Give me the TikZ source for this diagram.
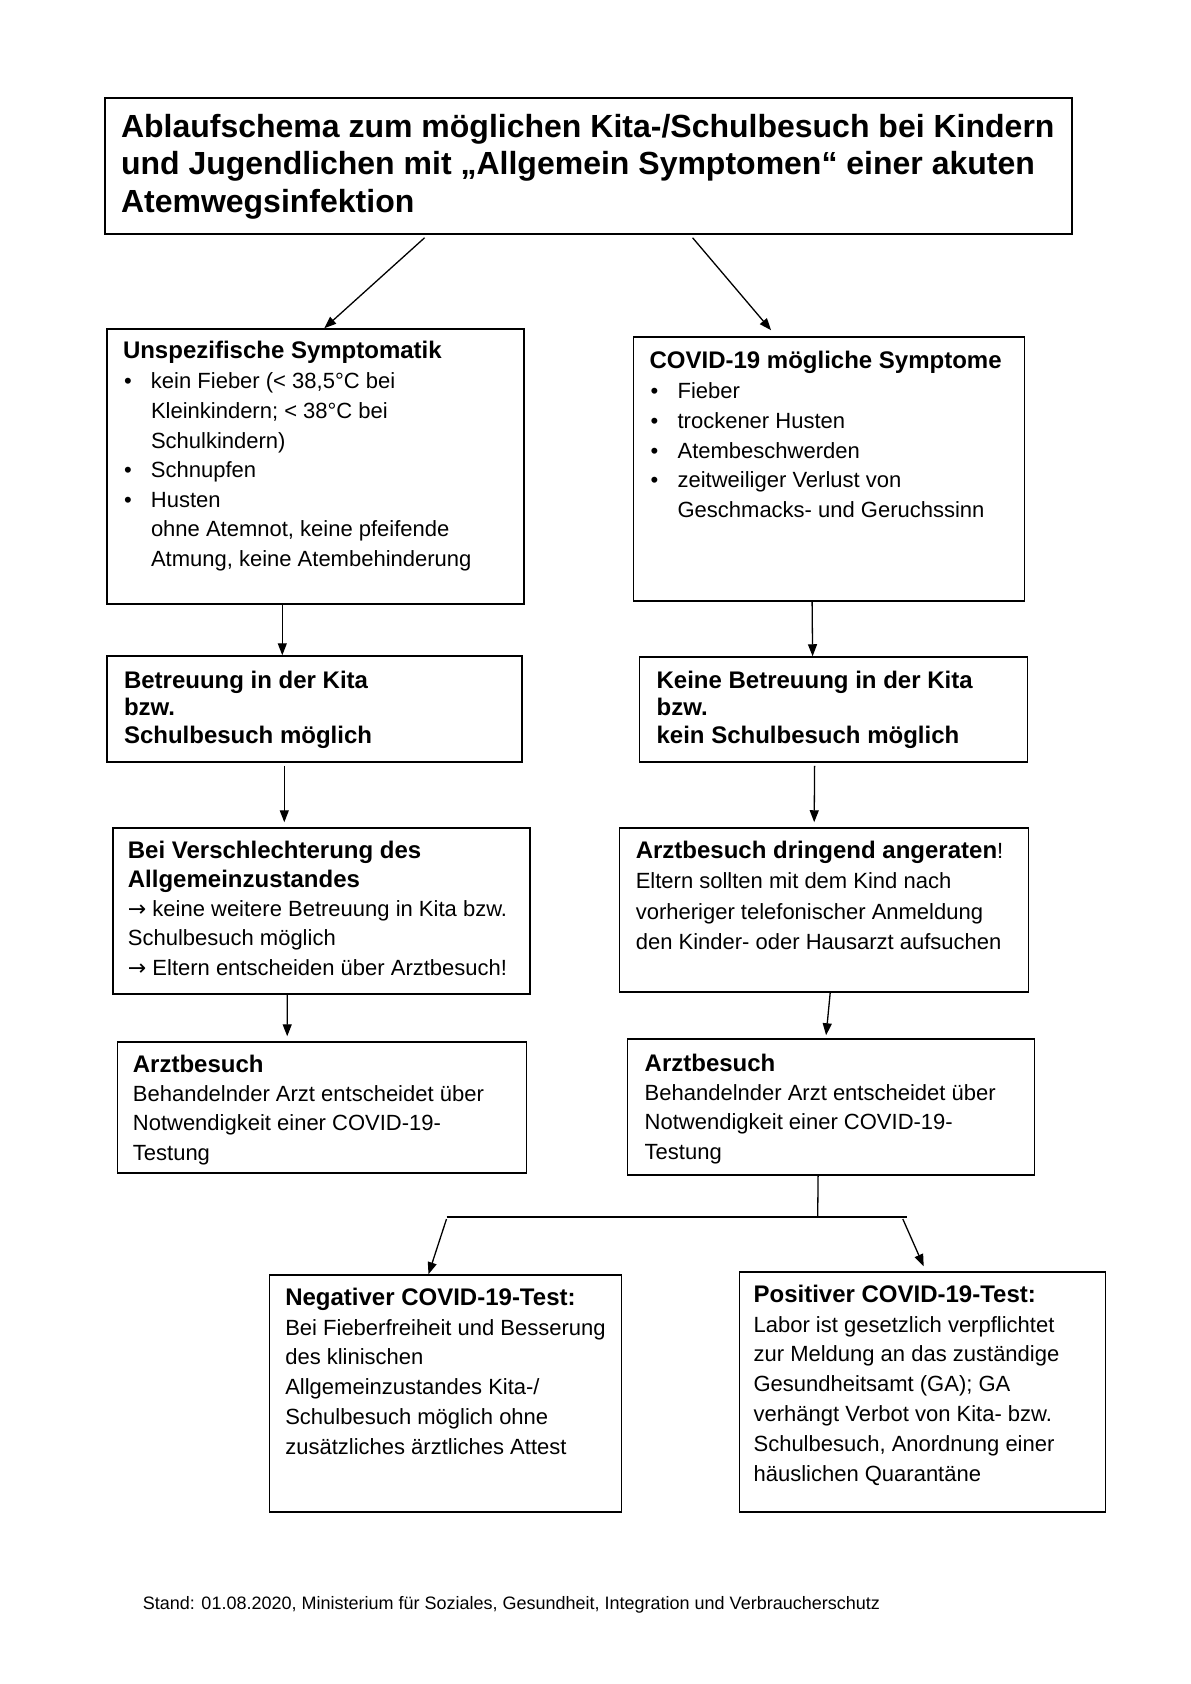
\documentclass[tikz,border=0pt]{standalone}
\usepackage{fontspec}
\setmainfont{Liberation Sans}
\newfontfamily\dvsfont{DejaVu Sans}
\usetikzlibrary{arrows.meta}
\newcommand\bitem{\hspace*{1pt}\makebox[27pt][l]{\textbullet}}
\newcommand\bind{\hspace*{28pt}}
\newcommand\hdr[1]{{\fontsize{24}{29.6}\selectfont\bfseries #1}}
\newcommand\fst{\rule{0pt}{22pt}}
\newcommand\rarr{{\dvsfont →}}
\begin{document}
\begin{tikzpicture}[x=1pt,y=-1pt,
  box/.style={draw=black, line width=1.5pt, rectangle, inner sep=0pt, fill=white},
  txt/.style={anchor=north west, inner sep=0pt, align=left, font=\fontsize{22}{29.6}\selectfont},
  arr/.style={line width=1.3pt, -{Triangle[length=12pt,width=9pt]}},
  ln/.style={line width=1.3pt}]
\useasboundingbox[fill=white] (0,0) rectangle (1191,1684);

% boxes
\node[box, minimum width=967pt, minimum height=136pt] (title) at (588.6,166) {};
\node[box, minimum width=417pt, minimum height=275pt] (unspez) at (315.3,466.5) {};
\node[box, minimum width=391pt, minimum height=264pt] (covid) at (829.1,469) {};
\node[box, minimum width=415pt, minimum height=106pt] (betr) at (314.3,709) {};
\node[box, minimum width=388pt, minimum height=105pt] (keine) at (833.6,709.5) {};
\node[box, minimum width=417pt, minimum height=166pt] (versch) at (321.3,911) {};
\node[box, minimum width=409pt, minimum height=164pt] (arztd) at (824.2,910) {};
\node[box, minimum width=409pt, minimum height=131pt] (arzt1) at (322.2,1107.5) {};
\node[box, minimum width=407pt, minimum height=136pt] (arzt2) at (831.1,1107) {};
\node[box, minimum width=352pt, minimum height=237pt] (neg) at (445.5,1393.5) {};
\node[box, minimum width=366pt, minimum height=240pt] (pos) at (922.7,1392) {};

% texts
\node[txt, font=\fontsize{32}{37.6}\selectfont\bfseries] (ttitle) at (120.8,111)
 {\rule{0pt}{26pt}Ablaufschema zum möglichen Kita-/Schulbesuch bei Kindern\\
  und Jugendlichen mit „Allgemein Symptomen“ einer akuten\\
  Atemwegsinfektion};

\node[txt] (tunspez) at (122.8,336)
 {\fst\hdr{Unspezifische Symptomatik}\\[1pt]
  \bitem kein Fieber (< 38,5°C bei\\
  \bind Kleinkindern; < 38°C bei\\
  \bind Schulkindern)\\
  \bitem Schnupfen\\
  \bitem Husten\\
  \bind ohne Atemnot, keine pfeifende\\
  \bind Atmung, keine Atembehinderung};

\node[txt] (tcovid) at (649.4,346)
 {\fst\hdr{COVID-19 mögliche Symptome}\\[1pt]
  \bitem Fieber\\
  \bitem trockener Husten\\
  \bitem Atembeschwerden\\
  \bitem zeitweiliger Verlust von\\
  \bind Geschmacks- und Geruchssinn};

\node[txt, font=\fontsize{24}{27.5}\selectfont\bfseries] (tbetr) at (123.8,666)
 {\fst Betreuung in der Kita\\ bzw.\\ Schulbesuch möglich};

\node[txt, font=\fontsize{24}{27.5}\selectfont\bfseries] (tkeine) at (656.4,666)
 {\fst Keine Betreuung in der Kita\\ bzw.\\ kein Schulbesuch möglich};

\node[txt, font=\fontsize{22}{29.25}\selectfont] (tversch) at (127.7,836)
 {\fst\hdr{Bei Verschlechterung des}\\
  \hdr{Allgemeinzustandes}\\
  \rarr\ keine weitere Betreuung in Kita bzw.\\
  Schulbesuch möglich\\
  \rarr\ Eltern entscheiden über Arztbesuch!};

\node[txt, font=\fontsize{22}{30.4}\selectfont] (tarztd) at (635.6,836)
 {\fst\hdr{Arztbesuch dringend angeraten}!\\
  Eltern sollten mit dem Kind nach\\
  vorheriger telefonischer Anmeldung\\
  den Kinder- oder Hausarzt aufsuchen};

\node[txt, font=\fontsize{22}{29.3}\selectfont] (tarzt1) at (132.7,1050)
 {\fst\hdr{Arztbesuch}\\
  Behandelnder Arzt entscheidet über\\
  Notwendigkeit einer COVID-19-\\
  Testung};

\node[txt, font=\fontsize{22}{29.3}\selectfont] (tarzt2) at (644.5,1049)
 {\fst\hdr{Arztbesuch}\\
  Behandelnder Arzt entscheidet über\\
  Notwendigkeit einer COVID-19-\\
  Testung};

\node[txt, font=\fontsize{22}{29.8}\selectfont] (tneg) at (285.1,1283)
 {\fst\hdr{Negativer COVID-19-Test:}\\
  Bei Fieberfreiheit und Besserung\\
  des klinischen\\
  Allgemeinzustandes Kita-/\\
  Schulbesuch möglich ohne\\
  zusätzliches ärztliches Attest};

\node[txt, font=\fontsize{22}{29.8}\selectfont] (tpos) at (753.4,1280)
 {\fst\hdr{Positiver COVID-19-Test:}\\
  Labor ist gesetzlich verpflichtet\\
  zur Meldung an das zuständige\\
  Gesundheitsamt (GA); GA\\
  verhängt Verbot von Kita- bzw.\\
  Schulbesuch, Anordnung einer\\
  häuslichen Quarantäne};

\node[anchor=base west, inner sep=0pt, font=\fontsize{18}{22}\selectfont] (footer) at (142.6,1609)
 {Stand: 01.08.2020, Ministerium für Soziales, Gesundheit, Integration und Verbraucherschutz};

% connectors
\coordinate (split) at (817.7,1217);
\coordinate (splitL) at (446.5,1217);
\coordinate (splitR) at (906.8,1217);

\draw[arr] ([xshift=-164pt,yshift=-3pt]title.south) -- ([xshift=9pt]unspez.north);
\draw[arr] ([xshift=104pt,yshift=-3pt]title.south) -- ([xshift=-58pt,yshift=6pt]covid.north);
\draw[arr] ([xshift=-33pt]unspez.south) -- ([xshift=-32pt]betr.north);
\draw[arr] ([xshift=-17pt]covid.south) -- ([xshift=-21pt]keine.north);
\draw[arr] ([xshift=-30pt,yshift=-3pt]betr.south) -- ([xshift=-37pt,yshift=5pt]versch.north);
\draw[arr] ([xshift=-19pt,yshift=-3pt]keine.south) -- ([xshift=-10pt,yshift=5pt]arztd.north);
\draw[arr] ([xshift=-34pt]versch.south) -- ([xshift=-35pt,yshift=5pt]arzt1.north);
\draw[arr] ([xshift=6pt]arztd.south) -- ([xshift=-5pt,yshift=3pt]arzt2.north);
\draw[ln] ([xshift=-13pt]arzt2.south) -- (split);
\draw[line width=2pt] (splitL) -- (splitR);
\draw[arr] ([yshift=-2pt]splitL) -- ([xshift=-17pt]neg.north);
\draw[arr] ([xshift=-4pt,yshift=-2pt]splitR) -- ([xshift=1pt,yshift=5pt]pos.north);
\end{tikzpicture}
\end{document}
